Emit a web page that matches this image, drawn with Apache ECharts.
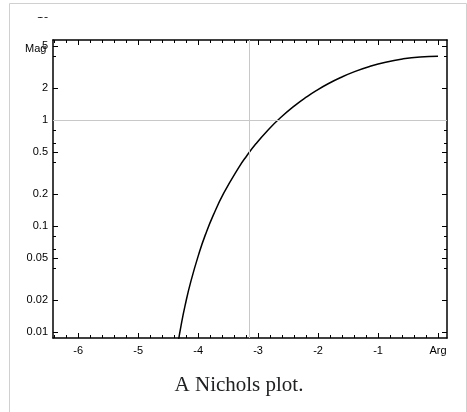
<!DOCTYPE html>
<html>
<head>
<meta charset="utf-8">
<script src="https://cdn.jsdelivr.net/npm/echarts@6/dist/echarts.min.js"></script>
<style>
  html, body { margin: 0; padding: 0; background: #fff; }
  #chart { width: 467px; height: 412px; }
</style>
</head>
<body>
<div id="chart"></div>
<script>
// curve: phase (rad) and magnitude
const argVals = [0, -0.299, -0.592, -0.874, -1.141, -1.391, -1.621, -1.832, -2.024, -2.198,
  -2.356, -2.628, -2.852, -3.037, -3.191, -3.321, -3.571, -3.747, -3.878, -3.977,
  -4.120, -4.217, -4.287, -4.339];
const magVals = [4.0, 3.94, 3.77, 3.515, 3.20, 2.86, 2.52, 2.20, 1.905, 1.643,
  1.414, 1.049, 0.785, 0.596, 0.458, 0.358, 0.205, 0.1265, 0.0829, 0.0571,
  0.0302, 0.0178, 0.0113, 0.0076];

// axis ticks / labels
const xMajorTicks = [-6, -5, -4, -3, -2, -1, 0];
const xLabels = ['-6', '-5', '-4', '-3', '-2', '-1', 'Arg'];
const xMinorTicks = [-6.4, -6.2, -6.0, -5.8, -5.6, -5.4, -5.2, -5.0, -4.8, -4.6, -4.4, -4.2,
  -4.0, -3.8, -3.6, -3.4, -3.2, -3.0, -2.8, -2.6, -2.4, -2.2, -2.0, -1.8, -1.6, -1.4,
  -1.2, -1.0, -0.8, -0.6, -0.4, -0.2, 0.0];
const yLabelVals = [0.01, 0.02, 0.05, 0.1, 0.2, 0.5, 1, 2, 5];
const yLabels = ['0.01', '0.02', '0.05', '0.1', '0.2', '0.5', '1', '2', '5'];
const yMinorVals = [0.04, 0.06, 0.08, 0.4, 0.6, 0.8, 4];

const xMin = -6.42, xMax = 0.15;
const yMin = Math.log10(0.00877), yMax = Math.log10(5.69);

const chart = echarts.init(document.getElementById('chart'));

const font = { fontFamily: 'Liberation Sans', fontSize: 11, color: '#000' };

function xAxis(pos, major, showLine) {
  return {
    type: 'value', position: pos, min: xMin, max: xMax,
    axisLine: { show: showLine, onZero: false, lineStyle: { color: '#000', width: 1.5 } },
    axisTick: { show: true, inside: true, length: major ? 5 : 3,
      customValues: major ? xMajorTicks : xMinorTicks,
      lineStyle: { color: '#000', width: 1 } },
    axisLabel: (pos === 'bottom' && major) ? Object.assign({
      show: true, margin: 7, customValues: xMajorTicks,
      formatter: v => xLabels[xMajorTicks.findIndex(t => Math.abs(t - v) < 1e-6)]
    }, font) : { show: false },
    splitLine: { show: false }
  };
}

function yAxis(pos, major, showLine) {
  const vals = (major ? yLabelVals : yMinorVals).map(v => Math.log10(v));
  return {
    type: 'value', position: pos, min: yMin, max: yMax,
    axisLine: { show: showLine, onZero: false, lineStyle: { color: '#000', width: 1.5 } },
    axisTick: { show: true, inside: true, length: major ? 5 : 3,
      customValues: vals, lineStyle: { color: '#000', width: 1 } },
    axisLabel: (pos === 'left' && major) ? Object.assign({
      show: true, margin: 5, customValues: vals,
      formatter: v => yLabels[yLabelVals.findIndex(t => Math.abs(Math.log10(t) - v) < 1e-6)]
    }, font) : { show: false },
    splitLine: { show: false }
  };
}

const option = {
  animation: false,
  backgroundColor: '#fff',
  grid: { left: 53, right: 20, top: 40, bottom: 74 },
  xAxis: [
    xAxis('bottom', true, true),
    xAxis('bottom', false, false),
    xAxis('top', true, true),
    xAxis('top', false, false)
  ],
  yAxis: [
    yAxis('left', true, true),
    yAxis('left', false, false),
    yAxis('right', true, true),
    yAxis('right', false, false)
  ],
  series: [
    {
      type: 'line',
      xAxisIndex: 0, yAxisIndex: 0,
      data: argVals.map((a, i) => [a, Math.log10(magVals[i])]),
      showSymbol: false,
      smooth: true,
      clip: true,
      lineStyle: { color: '#000', width: 1.5 },
      markLine: {
        silent: true,
        symbol: 'none',
        label: { show: false },
        lineStyle: { color: '#c8c8c8', type: 'solid', width: 1 },
        data: [{ xAxis: -Math.PI }, { yAxis: 0 }]
      },
      z: 3
    }
  ],
  graphic: [
    // "10" label sitting above the frame, cut off by the picture edge
    { type: 'text', left: 37, top: 9, style: { text: '10', font: '11px "Liberation Sans"', fill: '#000' } },
    { type: 'rect', shape: { x: 10, y: 4, width: 456, height: 13 }, style: { fill: '#fff' }, z: 10 },
    { type: 'text', left: 25, top: 43, style: { text: 'Mag', font: '11px "Liberation Sans"', fill: '#000' }, z: 11 },
    { type: 'rect', shape: { x: 9.5, y: 3.5, width: 457, height: 420 },
      style: { fill: 'none', stroke: '#d0d0d0', lineWidth: 1 }, z: 12 },
    { type: 'text', x: 239, y: 385,
      style: { text: 'A Nichols plot.', font: '21px "Liberation Serif"', fill: '#202122',
        textAlign: 'center', textVerticalAlign: 'middle' }, z: 12 }
  ]
};

chart.setOption(option);
</script>
</body>
</html>
